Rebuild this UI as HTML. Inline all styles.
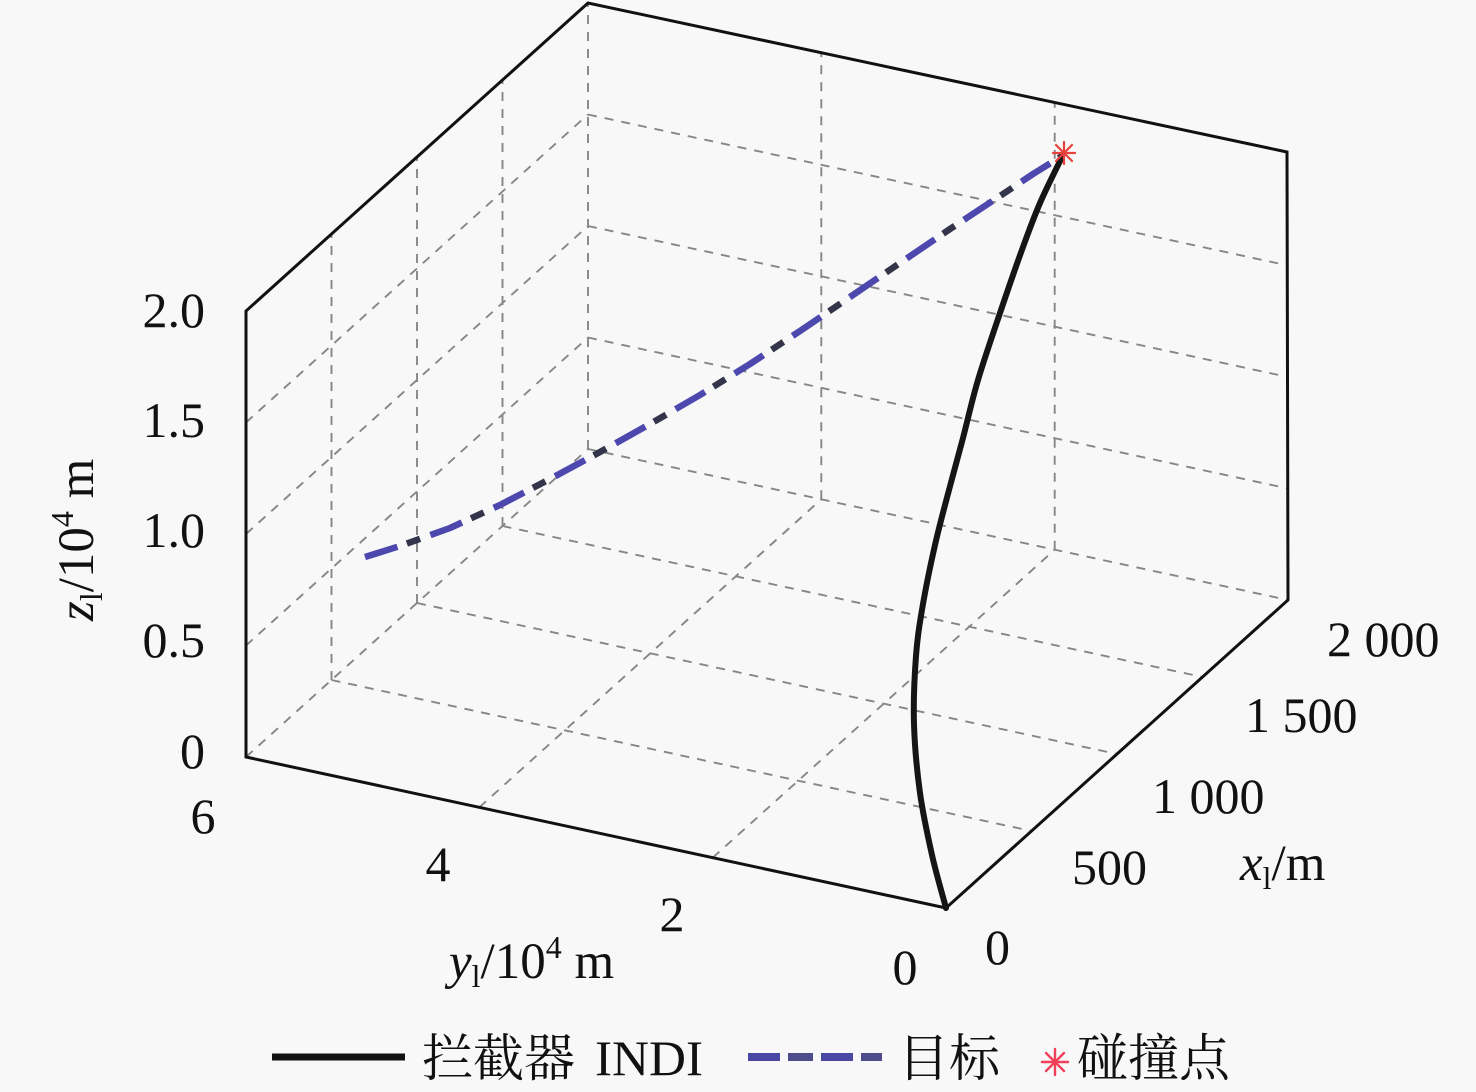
<!DOCTYPE html>
<html>
<head>
<meta charset="utf-8">
<style>
  html, body { margin: 0; padding: 0; background: #f8f8f8; }
  body { width: 1476px; height: 1092px; overflow: hidden; }
  svg { display: block; }
  .lat { font-family: "Liberation Serif", "Noto Serif CJK SC", serif; fill: #111; }
  .cjk { font-family: "Liberation Serif", "Noto Serif CJK SC", "Noto Serif CJK", "Source Han Serif SC", serif; fill: #111; }
</style>
</head>
<body>
<svg width="1476" height="1092" viewBox="0 0 1476 1092" xmlns="http://www.w3.org/2000/svg">
  <rect x="0" y="0" width="1476" height="1092" fill="#f8f8f8"/>

  <!-- grid lines -->
  <g stroke="#868686" stroke-width="1.9" stroke-dasharray="9 8" fill="none">
    <!-- floor -->
    <path d="M331.5,680 L1031.5,831"/>
    <path d="M417,603 L1117,754"/>
    <path d="M502.5,526 L1202.5,677"/>
    <path d="M588,449 L1288,600"/>
    <path d="M712.7,857.7 L1054.7,549.7"/>
    <path d="M479.3,807.3 L821.3,499.3"/>
    <path d="M246,757 L588,449"/>
    <!-- left wall -->
    <path d="M331.5,680 V234"/>
    <path d="M417,603 V157"/>
    <path d="M502.5,526 V80"/>
    <path d="M588,449 V3"/>
    <path d="M246,645.5 L588,337.5"/>
    <path d="M246,534 L588,226"/>
    <path d="M246,422.5 L588,114.5"/>
    <!-- back wall -->
    <path d="M821.3,499.3 V53.3"/>
    <path d="M1054.7,549.7 V103.7"/>
    <path d="M588,337.5 L1288,488.5"/>
    <path d="M588,226 L1288,377"/>
    <path d="M588,114.5 L1288,265.5"/>
  </g>

  <!-- box edges -->
  <g stroke="#111" stroke-width="3" fill="none" stroke-linejoin="miter">
    <path d="M246,311 L246,757 L946,908 L1288,600 L1287,152 L588,3 Z"/>
  </g>

  <!-- target trajectory (blue dashed with dark dashes) -->
  <g fill="none" stroke-width="6.5" stroke-linecap="butt" stroke-linejoin="round">
    <polyline points="365,557 400,546 450,528 500,505 550,479 600,452 650,424 700,395 750,364 800,331 850,297 900,263 950,229 1000,196 1033,174 1062,156"
      stroke="#4c48ad" stroke-dasharray="34 35"/>
    <polyline points="365,557 400,546 450,528 500,505 550,479 600,452 650,424 700,395 750,364 800,331 850,297 900,263 950,229 1000,196 1033,174 1062,156"
      stroke="#34344a" stroke-dasharray="14 55" stroke-dashoffset="25"/>
  </g>

  <!-- interceptor trajectory -->
  <path d="M946,908 C943.7,899.2 936.3,874.2 932,855 S923,814.8 920,793 S914.7,746.8 914,724 S914.5,676 916,656 S919.8,622.5 923,604 S930.7,564 935,545 S944.3,507.8 949,490 S958.2,456.3 963,438 S971.8,400.8 978,380 S992.5,335.2 1000,313 S1016.3,265.3 1023,247 S1033.5,218 1040,203 S1058.3,164.7 1062,157"
    fill="none" stroke="#151515" stroke-width="6" stroke-linecap="round"/>

  <!-- collision star -->
  <g stroke="#e8403a" stroke-width="2.2" stroke-linecap="round">
    <line x1="1064" y1="142" x2="1064" y2="164"/>
    <line x1="1053" y1="153" x2="1075" y2="153"/>
    <line x1="1056" y1="145" x2="1072" y2="161"/>
    <line x1="1056" y1="161" x2="1072" y2="145"/>
  </g>

  <!-- z tick labels -->
  <g class="lat" font-size="50" text-anchor="end">
    <text x="205" y="327">2.0</text>
    <text x="205" y="437">1.5</text>
    <text x="205" y="547">1.0</text>
    <text x="205" y="657">0.5</text>
    <text x="205" y="768">0</text>
  </g>

  <!-- y tick labels -->
  <g class="lat" font-size="50" text-anchor="middle">
    <text x="203" y="833">6</text>
    <text x="438" y="881">4</text>
    <text x="672" y="931">2</text>
    <text x="905" y="984">0</text>
  </g>

  <!-- x tick labels -->
  <g class="lat" font-size="50" text-anchor="start">
    <text x="985" y="964">0</text>
    <text x="1072" y="884">500</text>
    <text x="1152" y="813">1 000</text>
    <text x="1245" y="732">1 500</text>
    <text x="1327" y="656">2 000</text>
  </g>

  <!-- axis labels -->
  <text class="lat" font-size="51" x="449" y="978"><tspan font-style="italic">y</tspan><tspan font-size="32" dy="9">l</tspan><tspan dy="-9">/10</tspan><tspan font-size="32" dy="-20">4</tspan><tspan dy="20"> m</tspan></text>

  <text class="lat" font-size="51" x="1240" y="880"><tspan font-style="italic">x</tspan><tspan font-size="32" dy="9">l</tspan><tspan dy="-9">/m</tspan></text>

  <text class="lat" font-size="51" transform="translate(93,621) rotate(-90)" x="0" y="0"><tspan font-style="italic">z</tspan><tspan font-size="32" dy="9">l</tspan><tspan dy="-9">/10</tspan><tspan font-size="32" dy="-20">4</tspan><tspan dy="20"> m</tspan></text>

  <!-- legend -->
  <line x1="272" y1="1057" x2="405" y2="1057" stroke="#111" stroke-width="7"/>
  <text class="cjk" font-size="51" x="422" y="1076">拦截器</text>
  <text class="lat" font-size="50" x="595" y="1075" textLength="108" lengthAdjust="spacingAndGlyphs">INDI</text>

  <g fill="#4b48a5">
    <rect x="748" y="1053" width="32" height="8"/>
    <rect x="788" y="1053" width="25" height="8" fill="#4e4c8c"/>
    <rect x="821" y="1053" width="32" height="8"/>
    <rect x="861" y="1053" width="21" height="8" fill="#4e4c8c"/>
  </g>
  <text class="cjk" font-size="51" x="898" y="1076">目标</text>

  <g stroke="#f0405a" stroke-width="2.4" stroke-linecap="round">
    <line x1="1055" y1="1049" x2="1055" y2="1075"/>
    <line x1="1042" y1="1062" x2="1068" y2="1062"/>
    <line x1="1046" y1="1053" x2="1064" y2="1071"/>
    <line x1="1046" y1="1071" x2="1064" y2="1053"/>
  </g>
  <text class="cjk" font-size="51" x="1077" y="1076">碰撞点</text>
</svg>
</body>
</html>
